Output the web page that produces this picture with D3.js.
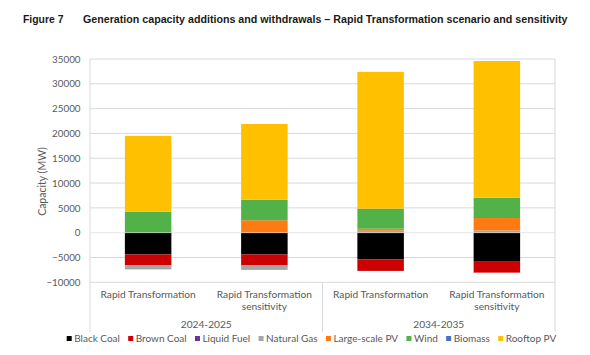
<!DOCTYPE html>
<html><head><meta charset="utf-8">
<script src="https://cdn.jsdelivr.net/npm/d3@7"></script>
<style>body{margin:0;background:#fff}svg{display:block}</style>
</head><body>
<svg id="c" width="590" height="355"></svg>
<script>
const categories = ["Rapid Transformation", "Rapid Transformation sensitivity", "Rapid Transformation", "Rapid Transformation sensitivity"];
const categoryLines = [["Rapid Transformation"], ["Rapid Transformation", "sensitivity"], ["Rapid Transformation"], ["Rapid Transformation", "sensitivity"]];
const groups = ["2024-2025", "2034-2035"];
const seriesNames = ["Black Coal", "Brown Coal", "Liquid Fuel", "Natural Gas", "Large-scale PV", "Wind", "Biomass", "Rooftop PV"];
const seriesColors = ["#000000", "#cc0000", "#7030a0", "#a5a5a5", "#ff7a10", "#52b148", "#4472c4", "#ffc000"];
const blackCoal   = [-4400, -4400, -5400, -5850];
const brownCoal   = [-2200, -2200, -2300, -2200];
const liquidFuel  = [0, 0, 0, 0];
const naturalGas  = [-800, -900, 400, 450];
const largePV     = [0, 2500, 400, 2500];
const wind        = [4200, 4150, 4050, 4100];
const biomass     = [0, 0, 0, 0];
const rooftopPV   = [15300, 15250, 27550, 27550];
const yTicks = [-10000, -5000, 0, 5000, 10000, 15000, 20000, 25000, 30000, 35000];

const seriesValues = [blackCoal, brownCoal, liquidFuel, naturalGas, largePV, wind, biomass, rooftopPV];
const rows = categories.map((c, i) => {
  const r = {idx: i};
  seriesNames.forEach((s, j) => r[s] = seriesValues[j][i]);
  return r;
});

const svg = d3.select("#c");
const L = 90, R = 555, T = 59, B = 282.3;
const x = d3.scaleBand().domain(d3.range(categories.length)).range([L, R]).paddingInner(0.6).paddingOuter(0.3);
const y = d3.scaleLinear().domain([-10000, 35000]).range([B, T]);
const grid = "#d9d9d9", txt = "#595959", font = "Lato, 'Open Sans', sans-serif";

// gridlines
svg.append("g").selectAll("line").data(yTicks).join("line")
  .attr("x1", L).attr("x2", R).attr("y1", d => y(d)).attr("y2", d => y(d))
  .attr("stroke", grid).attr("stroke-width", 1);
// frame verticals
const step = x.step();
const sepX = [L, L + step * 2, R];
svg.append("g").selectAll("line").data(sepX).join("line")
  .attr("x1", d => d).attr("x2", d => d).attr("y1", (d, i) => i === 1 ? B : T).attr("y2", 332)
  .attr("stroke", grid).attr("stroke-width", 1);

// y axis labels
const yAxis = d3.axisLeft(y).tickValues(yTicks).tickSize(0).tickPadding(0).tickFormat(d3.format("d"));
const ya = svg.append("g").attr("transform", `translate(80.5,0)`).call(yAxis);
ya.select(".domain").remove();
ya.selectAll("text").attr("fill", txt).attr("font-family", font).attr("font-size", "9.8px");

svg.append("text").attr("transform", "translate(46,181.5) rotate(-90)")
  .attr("text-anchor", "middle").attr("fill", txt).attr("font-family", font).attr("font-size", "10.5px")
  .text("Capacity (MW)");

// stacked bars
const stack = d3.stack().keys(seriesNames).offset(d3.stackOffsetDiverging);
const stacked = stack(rows);
svg.append("g").selectAll("g").data(stacked).join("g")
  .attr("fill", (d, i) => seriesColors[i])
  .selectAll("rect").data(d => d).join("rect")
  .attr("x", d => x(d.data.idx))
  .attr("width", x.bandwidth())
  .attr("y", d => y(Math.max(d[0], d[1])))
  .attr("height", d => Math.abs(y(d[0]) - y(d[1])));
// thin separation at zero line
svg.append("line").attr("x1", L).attr("x2", R).attr("y1", y(0)).attr("y2", y(0))
  .attr("stroke", "#ffffff").attr("stroke-opacity", 0.6).attr("stroke-width", 0.8);

// category labels
const cat = svg.append("g");
categoryLines.forEach((lines, i) => {
  const t = cat.append("text").attr("text-anchor", "middle").attr("fill", txt)
    .attr("font-family", font).attr("font-size", "10.2px");
  lines.forEach((ln, k) => t.append("tspan").attr("x", x(i) + x.bandwidth() / 2).attr("y", 297.5 + k * 12.8).text(ln));
});
groups.forEach((g, i) => {
  svg.append("text").attr("x", L + step * (2 * i + 1)).attr("y", 327.5).attr("text-anchor", "middle")
    .attr("fill", txt).attr("font-family", font).attr("font-size", "10.2px").text(g);
});

// legend
const lg = svg.append("g");
let lx = 66.7;
seriesNames.forEach((s, i) => {
  lg.append("rect").attr("x", lx).attr("y", 336).attr("width", 5).attr("height", 5).attr("fill", seriesColors[i]);
  const t = lg.append("text").attr("x", lx + 7.5).attr("y", 342.2).attr("fill", txt)
    .attr("font-family", font).attr("font-size", "10px").text(s);
  lx += 7.5 + t.node().getComputedTextLength() + 8.3;
});

// title
svg.append("text").attr("x", 23).attr("y", 22.5).attr("font-family", "'Liberation Sans', Arial, sans-serif")
  .attr("font-weight", "bold").attr("font-size", "10.4px").attr("fill", "#1a1a1a").text("Figure 7");
const tt = svg.append("text").attr("x", 83).attr("y", 22.5).attr("font-family", "'Liberation Sans', Arial, sans-serif")
  .attr("font-weight", "bold").attr("font-size", "10px").attr("fill", "#1a1a1a")
  .text("Generation capacity additions and withdrawals – Rapid Transformation scenario and sensitivity");
const w = tt.node().getComputedTextLength();
tt.attr("font-size", (10 * 485 / w).toFixed(2) + "px");
</script>
</body></html>
